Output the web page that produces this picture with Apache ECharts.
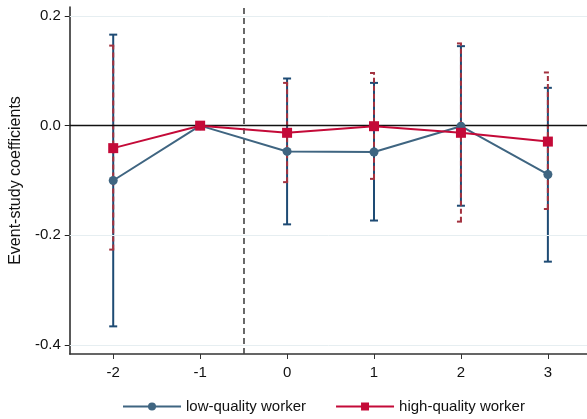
<!DOCTYPE html>
<html>
<head>
<meta charset="utf-8">
<script src="https://cdn.jsdelivr.net/npm/echarts@6/dist/echarts.min.js"></script>
<style>
  html, body { margin: 0; padding: 0; background: #fff; }
  #chart { width: 587px; height: 419px; }
</style>
</head>
<body>
<div id="chart"></div>
<script>
// event time
var periods = [-2, -1, 0, 1, 2, 3];
var yTicks = [-0.4, -0.2, 0.0, 0.2];

// low-quality worker
var lowCoef = [-0.100, 0, -0.047, -0.048, -0.001, -0.089];
var lowHi   = [0.166, 0, 0.086, 0.078, 0.145, 0.069];
var lowLo   = [-0.366, 0, -0.180, -0.173, -0.146, -0.248];

// high-quality worker
var highCoef = [-0.041, 0, -0.013, -0.001, -0.013, -0.029];
var highHi   = [0.146, 0, 0.078, 0.096, 0.150, 0.097];
var highLo   = [-0.226, 0, -0.103, -0.097, -0.175, -0.152];

var eventLine = -0.5;

var myChart = echarts.init(document.getElementById('chart'));

function pairs(ys) {
    return periods.map(function (p, i) { return [p, ys[i]]; });
}
function ciData(lo, hi) {
    var out = [];
    periods.forEach(function (p, i) {
        if (lo[i] !== hi[i]) out.push([p, lo[i], hi[i]]);
    });
    return out;
}
function errorBars(color, dash, width) {
    return function (params, api) {
        var x = api.value(0);
        var lo = api.coord([x, api.value(1)]);
        var hi = api.coord([x, api.value(2)]);
        var w = 4;
        var style = { stroke: color, lineWidth: width, lineDash: dash };
        return {
            type: 'group',
            children: [
                { type: 'line', shape: { x1: lo[0], y1: lo[1], x2: hi[0], y2: hi[1] }, style: style },
                { type: 'line', shape: { x1: lo[0] - w, y1: lo[1], x2: lo[0] + w, y2: lo[1] }, style: style },
                { type: 'line', shape: { x1: hi[0] - w, y1: hi[1], x2: hi[0] + w, y2: hi[1] }, style: style }
            ]
        };
    };
}

var font = 'Liberation Sans, Arial, sans-serif';

var option = {
    animation: false,
    backgroundColor: '#fff',
    grid: { left: 68, right: 0, top: 7, bottom: 65 },
    legend: {
        left: 117,
        top: 394,
        itemWidth: 58,
        itemHeight: 10,
        itemGap: 29,
        textStyle: { fontFamily: font, fontSize: 15, color: '#111' },
        data: ['low-quality worker', 'high-quality worker']
    },
    xAxis: {
        type: 'value',
        min: -2.5,
        max: 3.45,
        axisLine: { onZero: false, lineStyle: { color: '#333', width: 1.5 } },
        axisTick: { show: true, length: 5, customValues: periods, lineStyle: { color: '#333' } },
        axisLabel: { customValues: periods, margin: 11, fontFamily: font, fontSize: 15, color: '#111' },
        splitLine: { show: false }
    },
    yAxis: {
        type: 'value',
        min: -0.4164,
        max: 0.2164,
        name: 'Event-study coefficients',
        nameLocation: 'middle',
        nameGap: 45,
        nameTextStyle: { fontFamily: font, fontSize: 16, color: '#111' },
        axisLine: { show: true, onZero: false, lineStyle: { color: '#222', width: 1.5 } },
        axisTick: { show: true, length: 5, customValues: yTicks, lineStyle: { color: '#222' } },
        axisLabel: {
            customValues: yTicks, margin: 9, fontFamily: font, fontSize: 15, color: '#111',
            formatter: function (v) { return v.toFixed(1); }
        },
        splitLine: { show: false }
    },
    series: [
        {
            name: 'guides',
            type: 'line',
            data: [],
            silent: true,
            markLine: {
                symbol: 'none',
                silent: true,
                label: { show: false },
                data: [
                    { yAxis: 0.2, lineStyle: { color: '#E6EEF1', width: 1, type: 'solid' } },
                    { yAxis: -0.2, lineStyle: { color: '#E6EEF1', width: 1, type: 'solid' } },
                    { yAxis: -0.4, lineStyle: { color: '#E6EEF1', width: 1, type: 'solid' } },
                    { yAxis: 0, lineStyle: { color: '#111', width: 1.3, type: 'solid' } },
                    { xAxis: eventLine, lineStyle: { color: '#444', width: 1.6, type: [6, 4] } }
                ]
            }
        },
        {
            name: 'low ci',
            type: 'custom',
            renderItem: errorBars('#1E4B74', null, 2),
            data: ciData(lowLo, lowHi),
            z: 3
        },
        {
            name: 'high ci',
            type: 'custom',
            renderItem: errorBars('#A3323F', [5, 3], 2),
            data: ciData(highLo, highHi),
            z: 4
        },
        {
            name: 'low-quality worker',
            type: 'line',
            data: pairs(lowCoef),
            symbol: 'circle',
            symbolSize: 9,
            lineStyle: { color: '#3F6581', width: 2 },
            itemStyle: { color: '#3F6581' },
            z: 5
        },
        {
            name: 'high-quality worker',
            type: 'line',
            data: pairs(highCoef),
            symbol: 'rect',
            symbolSize: 10,
            lineStyle: { color: '#C40A38', width: 2 },
            itemStyle: { color: '#C40A38' },
            z: 6
        }
    ]
};
myChart.setOption(option);
</script>
</body>
</html>
